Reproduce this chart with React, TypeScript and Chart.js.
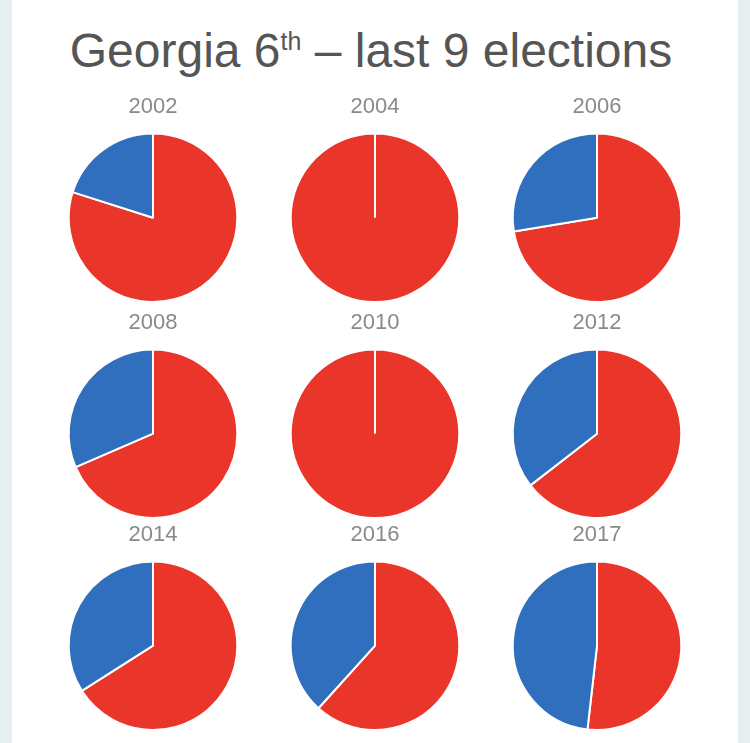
import React, { useEffect, useRef } from "react";
import { Chart, registerables } from "chart.js";

Chart.register(...registerables);

// ---- data ----
const years = ["2002", "2004", "2006", "2008", "2010", "2012", "2014", "2016", "2017"];
const republicanShare = [79.9, 100, 72.4, 68.5, 100, 64.5, 66.0, 61.7, 51.8];
const democratShare = [20.1, 0, 27.6, 31.5, 0, 35.5, 34.0, 38.3, 48.2];
const partyLabels = ["Republican", "Democrat"];
const partyColors = ["#E9352A", "#2F6FBD"];

// ---- layout ----
const colCenters = [153, 375, 597];
const rowTops = [92, 308, 520];
const CANVAS_W = 220;
const CANVAS_H = 211;
const FONT = "'Liberation Sans', Arial, Helvetica, sans-serif";

function PieCell({ index }: { index: number }) {
  const ref = useRef<HTMLCanvasElement | null>(null);
  useEffect(() => {
    if (!ref.current) return;
    const chart = new Chart(ref.current, {
      type: "pie",
      data: {
        labels: partyLabels,
        datasets: [
          {
            data: [republicanShare[index], democratShare[index]],
            backgroundColor: partyColors,
            borderColor: "#ffffff",
            borderWidth: 2,
          },
        ],
      },
      options: {
        responsive: false,
        animation: false,
        events: [],
        layout: { padding: 0 },
        plugins: {
          legend: { display: false },
          tooltip: { enabled: false },
          title: {
            display: true,
            text: years[index],
            color: "#8a8a8a",
            font: { family: FONT, size: 22, weight: "normal" as any, lineHeight: 1.2 },
            padding: { top: 2, bottom: 12 },
          },
        },
      },
    });
    return () => chart.destroy();
  }, [index]);
  const col = index % 3;
  const row = Math.floor(index / 3);
  return (
    <div
      style={{
        position: "absolute",
        left: colCenters[col] - CANVAS_W / 2,
        top: rowTops[row],
        width: CANVAS_W,
        height: CANVAS_H,
      }}
    >
      <canvas ref={ref} width={CANVAS_W} height={CANVAS_H} style={{ width: CANVAS_W, height: CANVAS_H, display: "block" }} />
    </div>
  );
}

export default function App() {
  return (
    <div
      style={{
        position: "absolute",
        left: 0,
        top: 0,
        width: 750,
        height: 743,
        background: "#e6eef2",
        overflow: "hidden",
      }}
    >
      <div
        style={{
          position: "absolute",
          left: 12,
          top: 0,
          width: 726,
          height: 743,
          background: "#ffffff",
        }}
      />
      <div
        style={{
          position: "absolute",
          left: 0,
          top: 27,
          width: 742,
          textAlign: "center",
          fontFamily: FONT,
          fontSize: 48,
          lineHeight: "48px",
          color: "#555555",
          whiteSpace: "nowrap",
        }}
      >
        Georgia 6
        <sup style={{ fontSize: "0.52em", verticalAlign: "17px", lineHeight: 0 }}>th</sup>
        {" \u2013 last 9 elections"}
      </div>
      {years.map((_, i) => (
        <PieCell key={i} index={i} />
      ))}
    </div>
  );
}
